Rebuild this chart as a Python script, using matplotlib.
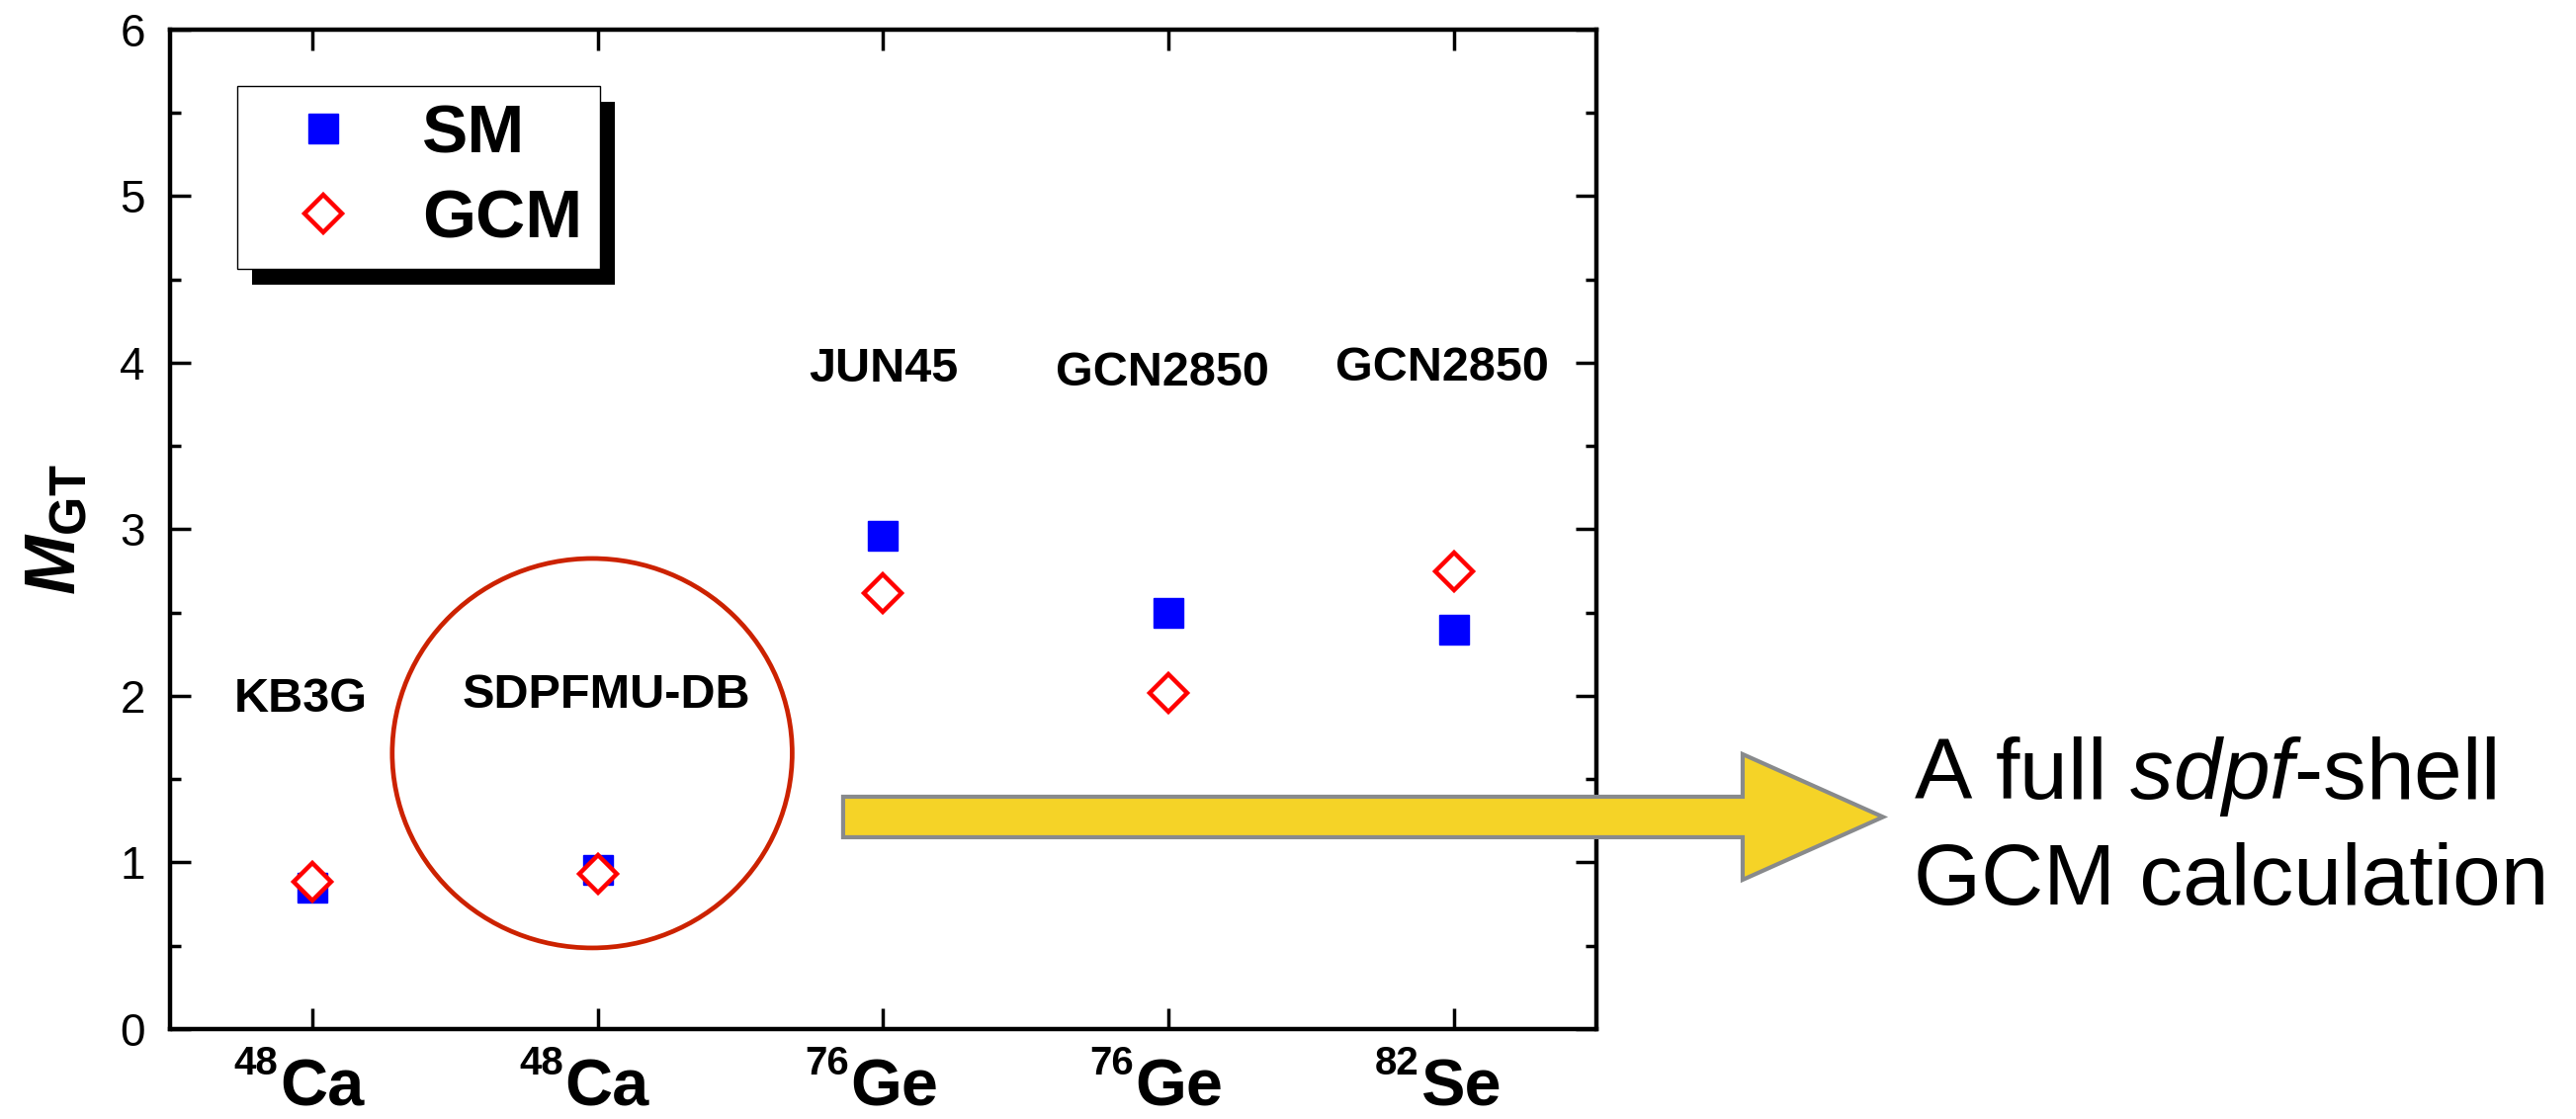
import matplotlib
matplotlib.use("Agg")
import matplotlib.pyplot as plt
import matplotlib.patheffects as pe
import matplotlib.transforms as mtransforms
from matplotlib.patches import Ellipse, FancyArrow
from matplotlib.ticker import MultipleLocator

plt.rcParams["font.family"] = ["Liberation Sans", "DejaVu Sans"]
plt.rcParams["mathtext.fontset"] = "custom"
plt.rcParams["mathtext.rm"] = "Liberation Sans"
plt.rcParams["mathtext.it"] = "Liberation Sans:italic"
plt.rcParams["mathtext.bf"] = "Liberation Sans:bold"
plt.rcParams["mathtext.bfit"] = "Liberation Sans:italic:bold"

# nuclei / interactions
mass_numbers = ["48", "48", "76", "76", "82"]
elements = ["Ca", "Ca", "Ge", "Ge", "Se"]
interactions = ["KB3G", "SDPFMU-DB", "JUN45", "GCN2850", "GCN2850"]
label_y = [1.98, 2.0, 3.96, 3.94, 3.97]
label_x_shift = [-0.04, 0.03, 0.0, -0.02, -0.04]

# Gamow-Teller matrix elements
m_gt_sm = [0.85, 0.955, 2.96, 2.50, 2.40]
m_gt_gcm = [0.885, 0.93, 2.62, 2.02, 2.75]

x = list(range(1, len(elements) + 1))

fig = plt.figure(figsize=(26.06, 11.32), dpi=100)
ax = fig.add_axes([0.066, 0.0804, 0.5537, 0.8931])

ax.plot(x, m_gt_sm, ls="none", marker="s", ms=22, color="#0000ff",
        mec="#0000ff", label="SM", zorder=3)
ax.plot(x, m_gt_gcm, ls="none", marker="D", ms=19.5, mfc="white",
        mec="#ff0000", mew=3.2, label="GCM", zorder=4)

for xi, dx, yi, name in zip(x, label_x_shift, label_y, interactions):
    ax.text(xi + dx, yi, name, ha="center", va="center", fontsize=35,
            fontweight="bold")

# circle around the sdpf-shell result
ax.add_patch(Ellipse((1.98, 1.656), 1.402, 2.338, fill=False,
                     ec="#cc2200", lw=3.4, zorder=2))

ax.set_xlim(0.5, 5.5)
ax.set_ylim(0, 6)
ax.set_xticks(x)
ax.set_xticklabels([])
ax.yaxis.set_major_locator(MultipleLocator(1))
ax.yaxis.set_minor_locator(MultipleLocator(0.5))

for s in ax.spines.values():
    s.set_linewidth(3.2)
ax.tick_params(which="both", direction="in", top=True, right=True, width=2.5)
ax.tick_params(which="major", length=15)
ax.tick_params(which="minor", length=8)
ax.tick_params(axis="y", labelsize=33, pad=18)

# isotope labels: mass number as a raised prefix to the element symbol
xtrans = ax.get_xaxis_transform()
for xi, a, e in zip(x, mass_numbers, elements):
    joint = mtransforms.offset_copy(xtrans, fig=fig, x=-25, y=-33,
                                    units="points")
    ax.text(xi, 0, a, transform=joint, ha="right", va="baseline",
            fontsize=29, fontweight="bold")
    base = mtransforms.offset_copy(xtrans, fig=fig, x=-24, y=-55.5,
                                   units="points")
    ax.text(xi, 0, e, transform=base, ha="left", va="baseline",
            fontsize=48, fontweight="bold")

ax.set_ylabel(r"$\mathbfit{M}_{\mathbf{GT}}$", fontsize=52, labelpad=22)

leg = ax.legend(loc="upper left", bbox_to_anchor=(0.047, 0.9436),
                borderaxespad=0, numpoints=1, fancybox=False, framealpha=1,
                prop={"weight": "bold", "size": 50}, borderpad=0.25,
                labelspacing=0.32, handlelength=2.0, handletextpad=0.45)
frame = leg.get_frame()
frame.set_edgecolor("black")
frame.set_facecolor("white")
frame.set_linewidth(1)
frame.set_path_effects([
    pe.SimplePatchShadow(offset=(11, -11.5), shadow_rgbFace="black", alpha=1.0),
    pe.Normal(),
])

# arrow pointing to the note on the right
fig.patches.append(FancyArrow(0.3273, 0.2699, 0.4037, 0, width=0.0362,
                              head_width=0.1122, head_length=0.0545,
                              length_includes_head=True, fc="#f5d327",
                              ec="#888a8c", lw=3, transform=fig.transFigure,
                              figure=fig, zorder=5))

fig.text(0.743, 0.2862, r"A full $\mathit{sdpf}$-shell", fontsize=63,
         va="baseline")
fig.text(0.743, 0.1917, "GCM calculation", fontsize=63, va="baseline")

fig.savefig("out.png", dpi=100, facecolor="white")
